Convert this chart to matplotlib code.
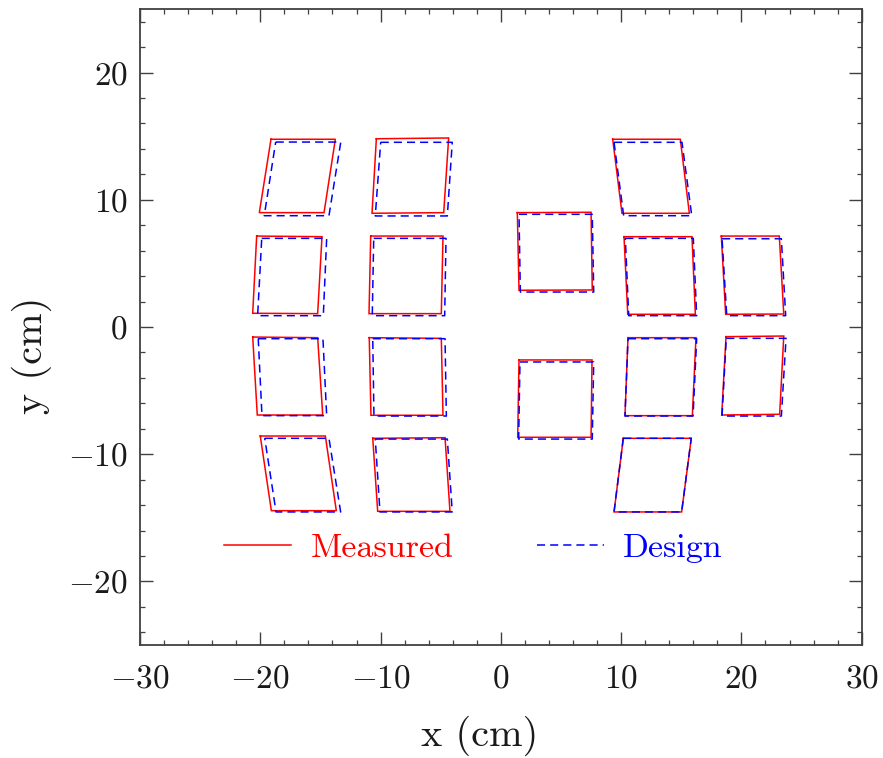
import numpy as np
import matplotlib
matplotlib.use("Agg")
import matplotlib.pyplot as plt
from matplotlib.ticker import MultipleLocator
from matplotlib.lines import Line2D

plt.rcParams['font.family'] = ['cmr10', 'DejaVu Serif']
plt.rcParams['mathtext.fontset'] = 'cm'
plt.rcParams['axes.formatter.use_mathtext'] = True

# corner order: top-left, top-right, bottom-right, bottom-left (cm)
measured_x = [
    [-19.11, -13.76, -14.70, -20.08],
    [-20.30, -14.87, -15.23, -20.63],
    [-20.63, -15.23, -14.81, -20.25],
    [-20.00, -14.59, -13.68, -19.08],
    [-10.35, -4.34, -4.75, -10.71],
    [-10.82, -4.81, -4.95, -10.96],
    [-10.94, -4.95, -4.81, -10.80],
    [-10.65, -4.64, -4.23, -10.24],
    [1.37, 7.50, 7.60, 1.51],
    [1.51, 7.58, 7.50, 1.40],
    [9.30, 14.92, 15.67, 10.07],
    [10.24, 15.89, 16.17, 10.55],
    [10.57, 16.22, 15.92, 10.32],
    [10.18, 15.83, 15.03, 9.41],
    [18.33, 23.15, 23.52, 18.69],
    [18.72, 23.52, 23.18, 18.36],
]
measured_y = [
    [14.76, 14.76, 8.99, 8.99],
    [7.15, 7.10, 1.05, 1.08],
    [-0.79, -0.84, -6.92, -6.92],
    [-8.57, -8.57, -14.44, -14.44],
    [14.80, 14.86, 8.99, 8.94],
    [7.15, 7.15, 1.05, 1.05],
    [-0.84, -0.89, -6.94, -6.94],
    [-8.75, -8.70, -14.49, -14.49],
    [8.99, 9.02, 2.91, 2.89],
    [-2.59, -2.59, -8.67, -8.67],
    [14.76, 14.76, 8.94, 8.94],
    [7.10, 7.10, 1.00, 1.00],
    [-0.84, -0.84, -6.97, -6.97],
    [-8.75, -8.75, -14.54, -14.54],
    [7.15, 7.15, 1.02, 1.00],
    [-0.76, -0.71, -6.86, -6.92],
]
design_x = [
    [-18.72, -13.31, -14.29, -19.67],
    [-19.88, -14.48, -14.76, -20.22],
    [-20.17, -14.79, -14.48, -19.86],
    [-19.63, -14.29, -13.32, -18.69],
    [-9.99, -4.04, -4.45, -10.44],
    [-10.57, -4.56, -4.67, -10.69],
    [-10.65, -4.64, -4.53, -10.55],
    [-10.44, -4.45, -4.04, -10.05],
    [1.51, 7.60, 7.72, 1.62],
    [1.59, 7.72, 7.60, 1.48],
    [9.41, 15.06, 15.87, 10.21],
    [10.35, 16.00, 16.28, 10.63],
    [10.57, 16.28, 15.98, 10.32],
    [10.18, 15.83, 15.03, 9.41],
    [18.39, 23.32, 23.68, 18.78],
    [18.74, 23.71, 23.32, 18.39],
]
design_y = [
    [14.54, 14.54, 8.75, 8.75],
    [6.97, 6.97, 0.89, 0.89],
    [-0.92, -0.92, -6.97, -6.97],
    [-8.75, -8.75, -14.54, -14.54],
    [14.52, 14.52, 8.73, 8.73],
    [6.97, 6.97, 0.89, 0.89],
    [-0.92, -0.92, -7.00, -7.00],
    [-8.81, -8.81, -14.54, -14.54],
    [8.86, 8.86, 2.75, 2.75],
    [-2.75, -2.75, -8.81, -8.81],
    [14.52, 14.52, 8.75, 8.75],
    [6.97, 6.97, 0.89, 0.89],
    [-0.92, -0.92, -7.00, -7.00],
    [-8.75, -8.75, -14.54, -14.54],
    [6.94, 6.94, 0.89, 0.89],
    [-0.89, -0.89, -7.00, -7.00],
]
series_labels = ["Measured", "Design"]
x_ticks = [-30, -20, -10, 0, 10, 20, 30]
y_ticks = [-20, -10, 0, 10, 20]

RED = '#ff0000'
BLUE = '#0000ff'
LW = 1.1
DASH = (0, (5.3, 3.3))

fig = plt.figure(figsize=(8.83, 7.58), dpi=100)
ax = fig.add_axes([140/883, 1-645/758, (861.7-140)/883, (645-9)/758])

for xs, ys in zip(measured_x, measured_y):
    ax.plot(xs + xs[:1], ys + ys[:1], color=RED, lw=LW, solid_joinstyle='miter')
for xs, ys in zip(design_x, design_y):
    ax.plot(xs + xs[:1], ys + ys[:1], color=BLUE, lw=LW, linestyle=DASH)

ax.set_xlim(-30, 30)
ax.set_ylim(-25, 25)
ax.set_xticks(x_ticks)
ax.set_yticks(y_ticks)
ax.xaxis.set_minor_locator(MultipleLocator(2))
ax.yaxis.set_minor_locator(MultipleLocator(2))

frame_col = '#404040'
for s in ax.spines.values():
    s.set_color(frame_col)
    s.set_linewidth(1.3)
ax.tick_params(which='both', direction='in', top=True, right=True,
               color=frame_col, labelcolor='#1a1a1a', labelsize=24)
ax.tick_params(which='major', length=9.4, width=1.0)
ax.tick_params(which='minor', length=3.6, width=0.9)
ax.tick_params(axis='x', which='major', pad=14)
ax.tick_params(axis='y', which='major', pad=9.0)

ax.set_xlabel("x (cm)", fontsize=29, color='#1a1a1a')
ax.set_ylabel("y (cm)", fontsize=29, color='#1a1a1a')
ax.xaxis.set_label_coords((480-140)/721.7, (645-736)/636)
ax.xaxis.label.set_verticalalignment('center')
ax.yaxis.set_label_coords((32-140)/721.7, (645-355)/636)
ax.yaxis.label.set_verticalalignment('center')

handles = [Line2D([], [], color=RED, lw=LW),
           Line2D([], [], color=BLUE, lw=LW, linestyle=DASH)]
leg = ax.legend(handles, series_labels, ncol=2, frameon=False,
                loc='center left',
                bbox_to_anchor=((224.3-140)/721.7, (645-548)/636),
                fontsize=24.5, handlelength=1.97, handletextpad=0.56,
                columnspacing=2.45, borderpad=0, borderaxespad=0,
                labelcolor='linecolor')

fig.savefig("out.png", dpi=100)
